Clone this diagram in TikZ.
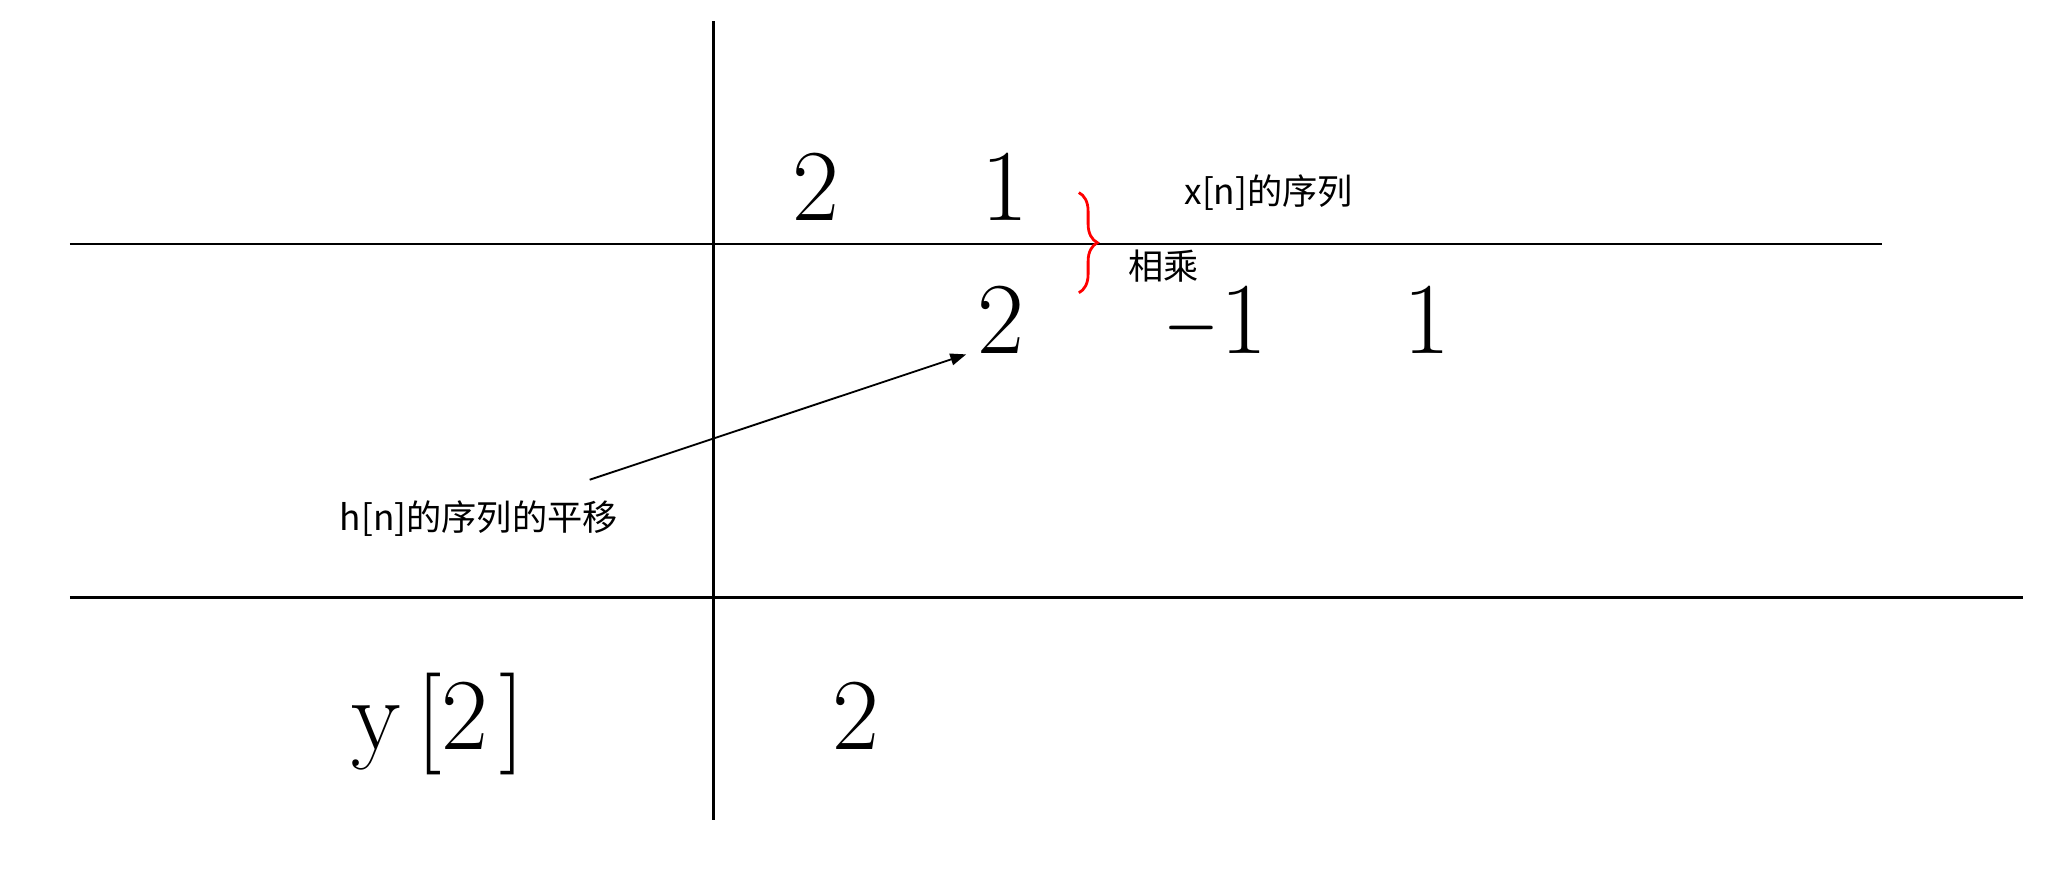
\documentclass[tikz,border=0pt]{standalone}
\usepackage{fontspec}
\newfontfamily\cjk{Noto Sans CJK SC}
\usepackage{graphicx}
\usepackage{tikz}
\usetikzlibrary{arrows.meta, positioning, calc, decorations.pathreplacing}

\begin{document}
\begin{tikzpicture}[
  num/.style={font=\fontsize{22}{26}\selectfont, inner sep=0pt, anchor=base},
  lbl/.style={font=\cjk\fontsize{7.6}{9}\selectfont, inner sep=0pt},
]
\useasboundingbox (-5.41, 1.85) rectangle (10.27, -4.79);

% Table lines
\draw[line width=0.5pt] (0, 1.69) -- (0, -4.37);
\draw[line width=0.5pt] (-4.88, 0) -- (8.86, 0);
\draw[line width=0.5pt] (-4.88, -2.68) -- (9.93, -2.68);

% x[n] sequence
\node[num] (x0) at (0.78, 0.18) {2};
\node[num] (x1) at (2.21, 0.18) {1};
\node[lbl] (xlbl) at (4.21, 0.39) {x[n]的序列};

% shifted h[n] sequence
\node[num] (h0) at (2.18, -0.83) {2};
\node[num] (h1) at (3.82, -0.83) {\smash{\scalebox{0.68}[1]{−}}\hspace{0.3mm}1};
\node[num] (h2) at (5.41, -0.83) {1};

% Multiply brace
\coordinate (btop) at (2.77, 0.39);
\coordinate (bbot) at (2.77, -0.37);
\draw[red, semithick, decorate, decoration={brace, amplitude=4pt}] (btop) -- (bbot);
\node[lbl] (mul) at (3.41, -0.17) {相乘};

% Shift label
\node[lbl] (hlbl) at (-1.78, -2.08) {h[n]的序列的平移};
\draw[-{Triangle[length=1.2mm, width=0.9mm]}] ([xshift=-2.2mm, yshift=1.5mm]hlbl.north east) -- ([xshift=-0.8mm]h0.south west);

% Result
\node[num] (ylbl) at (-2.09, -3.83) {y\hspace{1.2mm}[2\hspace{0.8mm}]};
\node[num] (y2) at (1.08, -3.83) {2};
\end{tikzpicture}
\end{document}
